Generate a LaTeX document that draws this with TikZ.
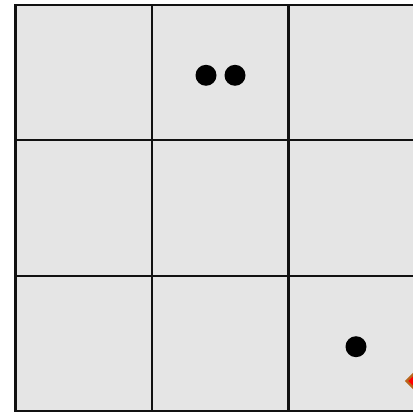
\documentclass[tikz,border=0pt]{standalone}
\usetikzlibrary{shapes.geometric}
\definecolor{cellgray}{HTML}{E5E5E5}
\definecolor{gridline}{HTML}{111111}
\definecolor{diamedge}{HTML}{B8651B}
\definecolor{diamfill}{HTML}{FF0000}
\tikzset{
  cell/.style={draw=gridline, fill=cellgray, line width=2.1pt, minimum width=136.5pt, minimum height=135.6pt, inner sep=0pt, outer sep=0pt, anchor=north west},
  token/.style={circle, fill=black, minimum size=21pt, inner sep=0pt},
  marker/.style={diamond, draw=diamedge, fill=diamfill, line width=2.2pt, minimum width=17pt, minimum height=17pt, inner sep=0pt}
}
\begin{document}
\begin{tikzpicture}[x=1pt,y=-1pt]
\useasboundingbox (0,0) rectangle (413,412);
\fill[white] (0,0) rectangle (413,412);
\foreach \r in {0,1,2}{
  \foreach \c in {0,1,2}{
    \node[cell] (c\r\c) at ({15.5+136.5*\c},{4.8+135.4*\r}) {};
  }
}
\node[token] (d1) at (206,75.3) {};
\node[token] (d2) at (235,75.3) {};
\node[token] (d3) at (356,346.7) {};
\node[marker] (m) at (414.5,381) {};
\end{tikzpicture}
\end{document}
